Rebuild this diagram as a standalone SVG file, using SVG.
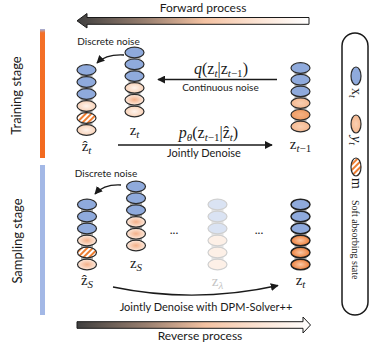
<svg xmlns="http://www.w3.org/2000/svg" width="382" height="345" viewBox="0 0 382 345">
<style>
.sans{font-family:Lato,"Open Sans","Liberation Sans",sans-serif;fill:#1a1a1a}
.serif{font-family:"Liberation Serif","DejaVu Serif",serif;fill:#1a1a1a}
.it{font-style:italic}
.bl{fill:#8faadc;stroke:#2b2b2b;stroke-width:1.2}
.pl{fill:url(#gPL);stroke:#2b2b2b;stroke-width:1.2}
.pd{fill:url(#gPD);stroke:#2b2b2b;stroke-width:1.2}
.pm{fill:url(#gPM);stroke:#2b2b2b;stroke-width:1.2}
.om{fill:url(#gOM);stroke:#2b2b2b;stroke-width:1.2}
.st{fill:url(#stripe);stroke:#2b2b2b;stroke-width:1.2}
.od{fill:url(#gOD);stroke:#222;stroke-width:1.5}
.bd{fill:#8faadc;stroke:#222;stroke-width:1.5}
.fb{fill:#dae3f3;stroke:#cfcfcf;stroke-width:1.2}
.fo{fill:#fdf0e7;stroke:#cfcfcf;stroke-width:1.2}
.gr{fill:#b0b0b0}
.ln{fill:none;stroke:#1a1a1a;stroke-width:1.3}
</style>
<defs>
<linearGradient id="gArrow" x1="0" y1="0" x2="1" y2="0">
<stop offset="0" stop-color="#3f3f3f"/>
<stop offset="0.3" stop-color="#9a8070"/>
<stop offset="0.55" stop-color="#f4c2a2"/>
<stop offset="0.8" stop-color="#fce6d8"/>
<stop offset="1" stop-color="#ffffff"/>
</linearGradient>
<linearGradient id="gBar" x1="0" y1="0" x2="0" y2="1">
<stop offset="0" stop-color="#9fb4e4"/>
<stop offset="0.03" stop-color="#f47028"/>
<stop offset="1" stop-color="#f36a1f"/>
</linearGradient>
<radialGradient id="gPL"><stop offset="0" stop-color="#fef3ec"/><stop offset="1" stop-color="#f8d2b8"/></radialGradient>
<radialGradient id="gPD"><stop offset="0" stop-color="#f4b089"/><stop offset="1" stop-color="#fde9dc"/></radialGradient>
<radialGradient id="gPM"><stop offset="0" stop-color="#f9cfb2"/><stop offset="1" stop-color="#f5b88f"/></radialGradient>
<radialGradient id="gOM"><stop offset="0" stop-color="#f4b183"/><stop offset="1" stop-color="#ef9b63"/></radialGradient>
<radialGradient id="gOD"><stop offset="0" stop-color="#f9c8a6"/><stop offset="1" stop-color="#ee7f3a"/></radialGradient>
<pattern id="stripe" patternUnits="userSpaceOnUse" width="4" height="4" patternTransform="rotate(45)">
<rect width="4" height="4" fill="#ffffff"/><rect width="2" height="4" fill="#ed7d31"/>
</pattern>
<marker id="ah" viewBox="0 0 10 10" refX="9" refY="5" markerWidth="8" markerHeight="8" markerUnits="userSpaceOnUse" orient="auto">
<path d="M0,0 L10,5 L0,10 Z" fill="#1a1a1a"/>
</marker>
</defs>
<rect width="382" height="345" fill="#ffffff"/>

<g id="forward-process">
<polygon points="309,17.5 87,17.5 87,13.5 77,20.8 87,28 87,24.3 309,24.3" fill="url(#gArrow)" stroke="#1a1a1a" stroke-width="1"/>
<text class="sans" x="203" y="12" font-size="12" text-anchor="middle">Forward process</text>
</g>

<g id="reverse-process">
<polygon points="77,321.7 303,321.7 303,317 310.5,325 303,333 303,328.3 77,328.3" fill="url(#gArrow)" stroke="#1a1a1a" stroke-width="1"/>
<text class="sans" x="200" y="340" font-size="12" text-anchor="middle">Reverse process</text>
</g>

<g id="training-stage">
<rect x="40" y="29" width="5" height="129" fill="url(#gBar)"/>
<text class="sans" transform="translate(21,95.5) rotate(-90)" font-size="13" text-anchor="middle">Training  stage</text>
</g>

<g id="sampling-stage">
<rect x="40" y="165" width="5" height="150" fill="#a3b8e6"/>
<text class="sans" transform="translate(22,241) rotate(-90)" font-size="13" text-anchor="middle">Sampling  stage</text>
</g>

<g id="zhat-t-train">
<rect class="gr" x="80.5" y="70" width="12" height="60"/>
<ellipse class="bl" cx="86.5" cy="70" rx="9.5" ry="5.3"/>
<ellipse class="bl" cx="86.5" cy="82" rx="9.5" ry="5.3"/>
<ellipse class="bl" cx="86.5" cy="94" rx="9.5" ry="5.3"/>
<ellipse class="pl" cx="86.5" cy="106" rx="9.5" ry="5.3"/>
<ellipse class="st" cx="86.5" cy="118" rx="9.5" ry="5.3"/>
<ellipse class="pl" cx="86.5" cy="130" rx="9.5" ry="5.3"/>
<text class="serif" x="86.5" y="151" font-size="15" text-anchor="middle">ẑ<tspan class="it" font-size="11" dy="3">t</tspan></text>
</g>

<g id="z-t-train">
<rect class="gr" x="128.5" y="52.5" width="12" height="59"/>
<ellipse class="bl" cx="134.5" cy="52.5" rx="9.5" ry="5.3"/>
<ellipse class="bl" cx="134.5" cy="64.3" rx="9.5" ry="5.3"/>
<ellipse class="bl" cx="134.5" cy="76.1" rx="9.5" ry="5.3"/>
<ellipse class="pl" cx="134.5" cy="87.9" rx="9.5" ry="5.3"/>
<ellipse class="pd" cx="134.5" cy="99.7" rx="9.5" ry="5.3"/>
<ellipse class="pl" cx="134.5" cy="111.5" rx="9.5" ry="5.3"/>
<text class="serif" x="134.5" y="135" font-size="15" text-anchor="middle">z<tspan class="it" font-size="11" dy="3">t</tspan></text>
</g>

<g id="z-tm1-train">
<rect class="gr" x="294.5" y="68" width="12" height="58.5"/>
<ellipse class="bl" cx="300.5" cy="68" rx="9.5" ry="5.3"/>
<ellipse class="bl" cx="300.5" cy="79.7" rx="9.5" ry="5.3"/>
<ellipse class="bl" cx="300.5" cy="91.4" rx="9.5" ry="5.3"/>
<ellipse class="pm" cx="300.5" cy="103.1" rx="9.5" ry="5.3"/>
<ellipse class="om" cx="300.5" cy="114.8" rx="9.5" ry="5.3"/>
<ellipse class="pm" cx="300.5" cy="126.5" rx="9.5" ry="5.3"/>
<text class="serif" x="300.5" y="149" font-size="15" text-anchor="middle">z<tspan class="it" font-size="11" dy="3">t</tspan><tspan font-size="11">−1</tspan></text>
</g>

<g id="zhat-s">
<rect class="gr" x="81" y="204.5" width="12" height="60"/>
<ellipse class="bl" cx="87" cy="204.5" rx="9.5" ry="5.3"/>
<ellipse class="bl" cx="87" cy="216.5" rx="9.5" ry="5.3"/>
<ellipse class="bl" cx="87" cy="228.5" rx="9.5" ry="5.3"/>
<ellipse class="pd" cx="87" cy="240.5" rx="9.5" ry="5.3"/>
<ellipse class="st" cx="87" cy="252.5" rx="9.5" ry="5.3"/>
<ellipse class="pd" cx="87" cy="264.5" rx="9.5" ry="5.3"/>
<text class="serif" x="87" y="285" font-size="15" text-anchor="middle">ẑ<tspan class="it" font-size="11" dy="3">S</tspan></text>
</g>

<g id="z-s">
<rect class="gr" x="130" y="186.5" width="12" height="59"/>
<ellipse class="bl" cx="136" cy="186.5" rx="9.5" ry="5.3"/>
<ellipse class="bl" cx="136" cy="198.3" rx="9.5" ry="5.3"/>
<ellipse class="bl" cx="136" cy="210.1" rx="9.5" ry="5.3"/>
<ellipse class="pd" cx="136" cy="221.9" rx="9.5" ry="5.3"/>
<ellipse class="pd" cx="136" cy="233.7" rx="9.5" ry="5.3"/>
<ellipse class="pd" cx="136" cy="245.5" rx="9.5" ry="5.3"/>
<text class="serif" x="136" y="268" font-size="15" text-anchor="middle">z<tspan class="it" font-size="11" dy="3">S</tspan></text>
</g>

<g id="dots-1"><text class="sans" x="174" y="234" font-size="12" text-anchor="middle">...</text></g>

<g id="z-lambda">
<rect x="211.5" y="204.5" width="12" height="60" fill="#e4e4e4"/>
<ellipse class="fb" cx="217.5" cy="204.5" rx="9.5" ry="5.3"/>
<ellipse class="fb" cx="217.5" cy="216.5" rx="9.5" ry="5.3"/>
<ellipse class="fb" cx="217.5" cy="228.5" rx="9.5" ry="5.3"/>
<ellipse class="fo" cx="217.5" cy="240.5" rx="9.5" ry="5.3"/>
<ellipse class="fo" cx="217.5" cy="252.5" rx="9.5" ry="5.3"/>
<ellipse class="fo" cx="217.5" cy="264.5" rx="9.5" ry="5.3"/>
<text class="serif" x="217.5" y="286" font-size="15" text-anchor="middle" style="fill:#c4c4c4">z<tspan class="it" font-size="11" dy="3">λ</tspan></text>
</g>

<g id="dots-2"><text class="sans" x="259" y="234" font-size="12" text-anchor="middle">...</text></g>

<g id="z-t-sample">
<rect class="gr" x="294.5" y="204.5" width="12" height="60"/>
<ellipse class="bd" cx="300.5" cy="204.5" rx="9.5" ry="5.3"/>
<ellipse class="bd" cx="300.5" cy="216.5" rx="9.5" ry="5.3"/>
<ellipse class="bd" cx="300.5" cy="228.5" rx="9.5" ry="5.3"/>
<ellipse class="od" cx="300.5" cy="240.5" rx="9.5" ry="5.3"/>
<ellipse class="od" cx="300.5" cy="252.5" rx="9.5" ry="5.3"/>
<ellipse class="od" cx="300.5" cy="264.5" rx="9.5" ry="5.3"/>
<text class="serif" x="300.5" y="285" font-size="15" text-anchor="middle">z<tspan class="it" font-size="11" dy="3">t</tspan></text>
</g>

<g id="legend">
<rect x="342" y="33" width="26" height="282" rx="13" ry="13" fill="none" stroke="#1a1a1a" stroke-width="1.5"/>
<ellipse class="bl" cx="356" cy="76" rx="5" ry="9"/>
<text class="serif" transform="translate(352,88) rotate(90)" font-size="14">x<tspan class="it" font-size="10" dy="3">t</tspan></text>
<ellipse class="pm" cx="356" cy="124" rx="5" ry="9"/>
<text class="serif" transform="translate(352,136) rotate(90)" font-size="14"><tspan class="it">y</tspan><tspan class="it" font-size="10" dy="3">t</tspan></text>
<ellipse class="st" cx="356" cy="167" rx="5" ry="9"/>
<text class="serif" transform="translate(352,178) rotate(90)" font-size="14">m</text>
<text class="serif" transform="translate(352,200) rotate(90)" font-size="10">Soft absorbing state</text>
</g>

<g id="connectors">
<line class="ln" x1="277" y1="79.5" x2="158" y2="79.5" marker-end="url(#ah)"/>
<line class="ln" x1="118" y1="145" x2="272" y2="145" marker-end="url(#ah)"/>
<path class="ln" d="M124,55 Q106,54 97,63" marker-end="url(#ah)"/>
<path class="ln" d="M121,185 Q104,184 95,194" marker-end="url(#ah)"/>
<path class="ln" d="M113,287 Q195,304 278,285.5" marker-end="url(#ah)"/>
</g>

<g id="labels">
<text class="sans" x="108.5" y="45" font-size="10" text-anchor="middle">Discrete noise</text>
<text class="sans" x="106" y="177" font-size="10" text-anchor="middle">Discrete noise</text>
<text class="serif" x="221" y="74" font-size="16" text-anchor="middle"><tspan class="it">q</tspan>(z<tspan class="it" font-size="11" dy="3">t</tspan><tspan dy="-3">|z</tspan><tspan class="it" font-size="11" dy="3">t</tspan><tspan font-size="11">−1</tspan><tspan dy="-3">)</tspan></text>
<text class="sans" x="220.5" y="91" font-size="10" text-anchor="middle">Continuous noise</text>
<text class="serif" x="208.5" y="138" font-size="16" text-anchor="middle"><tspan class="it">p</tspan><tspan class="it" font-size="11" dy="3">θ</tspan><tspan dy="-3">(z</tspan><tspan class="it" font-size="11" dy="3">t</tspan><tspan font-size="11">−1</tspan><tspan dy="-3">|ẑ</tspan><tspan class="it" font-size="11" dy="3">t</tspan><tspan dy="-3">)</tspan></text>
<text class="sans" x="204" y="157" font-size="11" text-anchor="middle">Jointly Denoise</text>
<text class="sans" x="206" y="311" font-size="11" text-anchor="middle">Jointly Denoise with DPM-Solver++</text>
</g>
</svg>
